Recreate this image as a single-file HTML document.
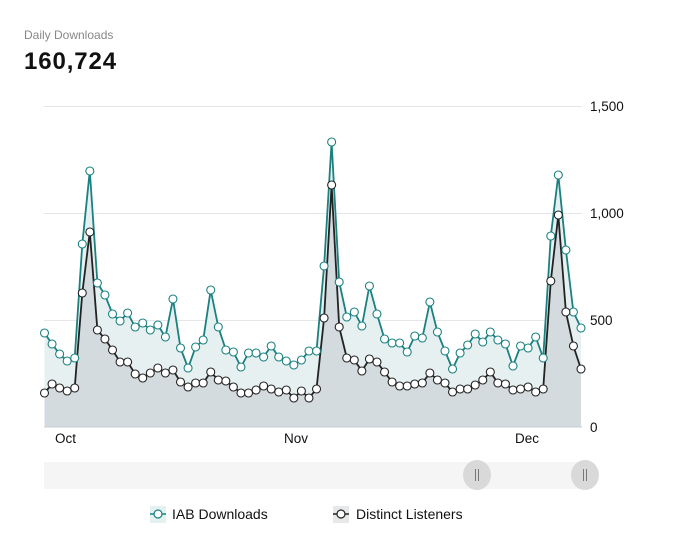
<!DOCTYPE html>
<html><head><meta charset="utf-8"><style>
body{margin:0;background:#fff;font-family:"Liberation Sans",sans-serif;}
</style></head><body>
<svg width="675" height="543" viewBox="0 0 675 543" xmlns="http://www.w3.org/2000/svg" font-family="Liberation Sans, sans-serif">
<text x="24" y="39" font-size="12" fill="#888">Daily Downloads</text>
<text x="24" y="69" font-size="24" font-weight="bold" fill="#111" letter-spacing="0.9">160,724</text>
<g stroke="#e6e6e6" stroke-width="1">
<line x1="44" y1="106.5" x2="582" y2="106.5"/>
<line x1="44" y1="213.5" x2="582" y2="213.5"/>
<line x1="44" y1="320.5" x2="582" y2="320.5"/>
</g>
<g font-size="13.5" fill="#111">
<text x="590" y="111">1,500</text>
<text x="590" y="218">1,000</text>
<text x="590" y="325">500</text>
<text x="590" y="432">0</text>
<text x="55" y="443">Oct</text>
<text x="284" y="443">Nov</text>
<text x="515" y="443">Dec</text>
</g>
<g id="c"></g>
<line x1="44" y1="427" x2="582" y2="427" stroke="#c8ced3" stroke-width="1"/>
<rect x="44" y="462" width="538" height="27" fill="#f5f5f5"/>
<ellipse cx="477" cy="475" rx="14" ry="15" fill="#d9d9d9"/>
<ellipse cx="585" cy="475" rx="14" ry="15" fill="#d9d9d9"/>
<g stroke="#777" stroke-width="1"><line x1="475.5" y1="469" x2="475.5" y2="481"/><line x1="478.5" y1="469" x2="478.5" y2="481"/><line x1="583.5" y1="469" x2="583.5" y2="481"/><line x1="586.5" y1="469" x2="586.5" y2="481"/></g>
<rect x="150" y="506" width="16" height="17" fill="#e3f1f1"/>
<line x1="150" y1="514" x2="166" y2="514" stroke="#1a8080" stroke-width="1.5"/>
<circle cx="158" cy="514" r="4" fill="#fff" stroke="#1a8080" stroke-width="1.2"/>
<text x="172" y="519" font-size="14" fill="#111">IAB Downloads</text>
<rect x="333" y="506" width="16" height="17" fill="#e6e8ea"/>
<line x1="333" y1="514" x2="349" y2="514" stroke="#222" stroke-width="1.5"/>
<circle cx="341" cy="514" r="4" fill="#fff" stroke="#222" stroke-width="1.2"/>
<text x="356" y="519" font-size="14" fill="#111">Distinct Listeners</text>
</svg>
<script>
var a=[333,344,354,361,358,244,171,283,295,314,321,313,327,323,330,325,337,299,348,368,347,340,290,327,350,352,367,353,353,357,346,357,361,365,360,351,351,266,142,282,317,312,326,286,314,339,343,343,352,336,338,302,332,351,369,353,345,334,342,332,340,344,366,346,348,337,358,236,175,250,312,328];
var b=[393,384,388,391,388,293,232,330,339,350,362,362,374,378,373,368,373,370,382,387,383,383,372,380,381,387,393,393,390,386,389,392,390,398,391,398,389,318,185,327,358,360,371,359,362,372,382,386,386,384,383,373,380,383,392,389,389,385,380,372,383,384,390,389,387,392,389,281,215,312,346,369];
var n=a.length,x0=44.5,x1=581,dx=(x1-x0)/(n-1);
function pts(d){return d.map(function(y,i){return (x0+i*dx).toFixed(1)+','+y}).join(' ');}
var s='';
s+='<polygon points="'+x0+',427 '+pts(a)+' '+x1+',427" fill="#e6f0f1"/>';
s+='<polygon points="'+x0+',427 '+pts(b)+' '+x1+',427" fill="#d3dbdf"/>';
s+='<polyline points="'+pts(a)+'" fill="none" stroke="#1a8080" stroke-width="1.8"/>';
s+='<polyline points="'+pts(b)+'" fill="none" stroke="#222" stroke-width="1.8"/>';
a.forEach(function(y,i){s+='<circle cx="'+(x0+i*dx)+'" cy="'+y+'" r="4" fill="#fff" stroke="#1a8080" stroke-width="1.1"/>';});
b.forEach(function(y,i){s+='<circle cx="'+(x0+i*dx)+'" cy="'+y+'" r="4" fill="#fff" stroke="#222" stroke-width="1.1"/>';});
document.getElementById('c').innerHTML=s;
</script>
</body></html>
